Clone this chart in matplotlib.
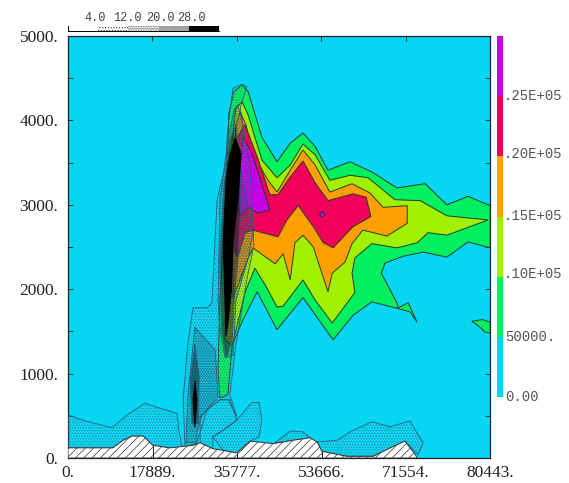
import matplotlib
matplotlib.use("Agg")
import matplotlib.pyplot as plt
import numpy as np

plt.rcParams['font.family'] = ['Liberation Mono', 'DejaVu Sans Mono']
plt.rcParams['hatch.linewidth'] = 0.5

# x in km, height in km
green_x = [36.9,38.2,41.1,44.3,47.1,49.8,52.4,55.1,59.8,64.7,69.7,75.7,80.3,84.8,89.5,89.5,84.8,80.3,75.3,71.0,67.2,66.4,69.7,70.0,72.1,74.0,72.5,70.0,64.4,60.4,56.2,49.8,44.3,40.1,37.1,34.8,33.9,32.2,31.8,32.2,33.5,34.1,35.2]
green_y = [4.42,4.34,3.80,3.51,3.73,3.85,3.69,3.41,3.51,3.38,3.20,3.25,3.00,3.10,2.99,2.49,2.56,2.38,2.44,2.39,2.31,2.19,1.84,1.78,1.84,1.61,1.73,1.77,1.85,1.69,1.40,1.90,1.52,1.97,1.64,1.34,0.75,0.71,1.04,1.87,3.06,4.09,4.34]

yellow_x = [36.9,38.2,41.1,44.3,47.1,49.8,52.4,55.5,59.8,63.6,69.3,74.6,80.3,89.0,80.3,76.3,74.0,69.7,64.4,60.8,60.2,60.8,56.0,52.4,49.8,45.6,44.3,41.8,39.6,37.5,36.5,34.8,33.3,33.3,34.8,35.6]
yellow_y = [4.22,4.06,3.53,3.32,3.47,3.72,3.59,3.29,3.35,3.32,3.06,3.05,2.87,2.82,2.64,2.67,2.55,2.49,2.54,2.37,2.19,1.96,1.60,1.87,2.11,1.80,1.79,2.05,2.25,1.96,1.72,1.34,1.40,2.46,3.77,4.15]

orange_x = [36.5,37.7,39.3,42.4,44.3,47.1,49.8,52.4,55.5,60.2,64.0,66.8,71.9,71.9,67.6,62.5,60.2,58.7,56.0,55.1,52.0,49.8,48.1,47.1,45.6,43.9,39.2,38.2,35.0,34.8,35.6]
orange_y = [4.10,3.95,3.59,3.29,3.15,3.41,3.65,3.47,3.15,3.25,3.14,2.97,2.99,2.78,2.63,2.70,2.54,2.32,2.19,1.97,2.50,2.64,2.55,2.11,2.42,2.30,2.49,2.37,1.90,3.06,3.95]

red_x = [37.5,40.1,42.8,44.5,47.1,49.8,52.4,55.1,60.4,63.2,64.2,60.4,56.2,54.1,52.0,48.8,46.4,44.5,39.2,37.5,36.0,35.2,35.6]
red_y = [3.95,3.57,3.12,3.12,3.33,3.52,3.26,3.05,3.13,3.09,2.86,2.74,2.49,2.55,2.74,2.99,2.82,2.62,2.70,2.67,2.38,2.46,3.77]

purple_x = [37.1,39.0,42.8,40.3,38.2,36.5,36.0,36.5]
purple_y = [3.80,3.61,2.94,2.90,2.97,2.86,3.02,3.45]
purple_dot_x = [53.4,54.1,54.5,53.8,53.4]
purple_dot_y = [2.90,2.92,2.88,2.85,2.88]

patch_x = [85.6,87.8,89.5,89.5,88.4,87.3]
patch_y = [1.62,1.64,1.61,1.48,1.49,1.55]

# cloud water stipple, 4-12
tower1_x = [35.0,36.9,37.9,36.5,38.6,39.4,37.9,36.5,35.6,34.3,35.8,33.9,32.2,29.5,27.3,24.8,24.4,25.4,26.5,29.5,30.5,31.6,33.5,33.7,34.3]
tower1_y = [4.38,4.43,4.40,4.15,3.41,2.52,2.11,1.64,1.34,0.75,0.49,0.69,0.69,0.57,0.18,0.13,0.69,1.36,1.78,1.78,1.84,3.06,3.50,3.80,4.12]
left1_x = [0,3.6,9.3,12.5,16.3,18.9,23.1,23.5,24.2,21.6,18.0,15.9,13.6,11.7,9.5,0]
left1_y = [0.51,0.44,0.36,0.51,0.65,0.60,0.53,0.33,0.13,0.12,0.15,0.26,0.26,0.21,0.12,0.12]
mid1_x = [30.7,32.9,35.8,39.0,40.5,41.1,40.5,38.6,35.8,32.9]
mid1_y = [0.25,0.33,0.45,0.66,0.66,0.45,0.25,0.20,0.06,0.09]
mid2_x = [28.0,29.5,32.2,34.3,35.8,32.9,30.7,30.7,28.0]
mid2_y = [0.49,0.57,0.69,0.69,0.45,0.33,0.25,0.11,0.18]
right1_x = [52.8,57.0,59.8,64.4,68.3,72.5,73.6,75.3,74.2,71.4,68.3,64.7,59.1,53.8]
right1_y = [0.19,0.21,0.31,0.43,0.37,0.44,0.33,0.18,0.04,0.20,0.12,0.02,0.02,0.08]
small1_x = [43.9,47.1,49.8,51.3,47.7]
small1_y = [0.18,0.32,0.31,0.24,0.21]

# 12-20
cell2_x = [25.0,25.4,26.9,31.2,31.8,28.4,27.3,27.3]
cell2_y = [0.18,0.72,1.55,1.28,0.72,0.51,0.30,0.18]
tower2_x = [36.0,37.1,36.5,38.2,39.4,38.2,35.6,35.0,33.3,32.2,31.8,32.2,33.9,35.2]
tower2_y = [4.18,3.95,3.45,2.97,2.73,2.37,1.87,1.22,1.19,1.52,1.87,3.06,3.77,4.12]

# 20-28
cell3_x = [26.9,27.8,27.6,26.3,25.9]
cell3_y = [1.34,0.96,0.41,0.41,0.92]
tower3_x = [35.6,36.5,36.5,36.0,35.2,34.8,33.5,32.6,32.2,33.1,34.3]
tower3_y = [3.95,3.45,2.86,2.35,1.87,1.40,1.19,1.52,2.35,3.26,3.77]

# over 28
cell4_x = [26.9,27.3,26.9,26.5]
cell4_y = [0.92,0.69,0.36,0.69]
tower4_x = [35.4,36.7,36.0,35.0,34.6,33.9,33.5,32.9,33.5,34.3]
tower4_y = [3.79,3.61,3.06,2.57,1.97,1.60,1.45,2.57,3.29,3.59]

terrain_x = [0,9.5,11.7,13.6,15.9,18.0,21.6,26.5,28.0,30.7,32.9,35.8,38.6,43.5,47.7,51.3,52.8,53.8,59.1,64.7,68.3,71.4,73.6,74.0,74.0,0]
terrain_y = [0.12,0.12,0.21,0.26,0.26,0.15,0.12,0.15,0.18,0.11,0.09,0.06,0.20,0.17,0.21,0.24,0.19,0.08,0.02,0.02,0.12,0.20,0.04,0,0,0]
terrain_cut_x = [18.0,35.8,53.8]

xtick_pos = [0,17889,35777,53666,71554,89443]
xtick_labels = ["0.","17889.","35777.","53666.","71554.","80443."]
ytick_pos = [0,1000,2000,3000,4000,5000]
ytick_labels = ["0.","1000.","2000.","3000.","4000.","5000."]

levels = [0,50000,100000,150000,200000,250000,300000]
level_labels = ["0.00","50000.",".10E+05",".15E+05",".20E+05",".25E+05"]
level_colors = ["#06d6f2","#00f060","#a0f000","#ffa000","#f0005a","#c400e4"]

shade_labels = ["4.0","12.0","20.0","28.0"]
shade_hatch = [None,"......","..........","................",None]

W, H = 569, 483
fig = plt.figure(figsize=(W/100, H/100), dpi=100)
ax = fig.add_axes([68/W, 25/H, 422/W, 422/H])
ax.set_facecolor(level_colors[0])

def poly(x, y, color, line="#2a3a2a", z=2):
    ax.fill(np.array(x)*1000, np.array(y)*1000, facecolor=color, edgecolor=line, linewidth=0.7, zorder=z)

def dots(x, y, hatch, dot="#24303f", line="#2f5a78", z=3):
    ax.fill(np.array(x)*1000, np.array(y)*1000, facecolor="none", edgecolor=dot, hatch=hatch, linewidth=0, zorder=z)
    ax.plot(np.array(x+x[:1])*1000, np.array(y+y[:1])*1000, color=line, linewidth=0.6, zorder=z)

poly(green_x, green_y, level_colors[1])
poly(patch_x, patch_y, level_colors[1])
poly(yellow_x, yellow_y, level_colors[2])
poly(orange_x, orange_y, level_colors[3])
poly(red_x, red_y, level_colors[4])
poly(purple_x, purple_y, level_colors[5])
poly(purple_dot_x, purple_dot_y, level_colors[5])

for x, y in [(tower1_x,tower1_y),(left1_x,left1_y),(mid1_x,mid1_y),(mid2_x,mid2_y),(right1_x,right1_y),(small1_x,small1_y)]:
    dots(x, y, "......", dot="#3b7f9c")
for x, y in [(cell2_x,cell2_y),(tower2_x,tower2_y)]:
    dots(x, y, "..........", dot="#2c4a5c", z=4)
for x, y in [(cell3_x,cell3_y),(tower3_x,tower3_y)]:
    dots(x, y, "................", dot="#10181c", z=5)
for x, y in [(cell4_x,cell4_y),(tower4_x,tower4_y)]:
    poly(x, y, "black", line="black", z=6)

# ground
ax.fill(np.array(terrain_x)*1000, np.array(terrain_y)*1000, facecolor="white", edgecolor="#333333", hatch="////", linewidth=0.7, zorder=7)
ax.vlines(np.array(terrain_cut_x)*1000, 0, [150,60,80], color="#222222", linewidth=0.7, zorder=8)

ax.set_xlim(0, 89443)
ax.set_ylim(0, 5000)
ax.set_xticks(xtick_pos)
ax.set_xticklabels(xtick_labels, fontsize=12.5, color="#222222", family="Liberation Serif")
ax.set_yticks(np.arange(0, 5001, 500), minor=True)
ax.set_yticks(ytick_pos)
ax.set_yticklabels(ytick_labels, fontsize=12.5, color="#222222", family="Liberation Serif")
ax.tick_params(axis="both", which="both", direction="in", top=True, right=True, length=3.5, width=0.7, color="#333333")
ax.tick_params(axis="x", pad=5)
ax.tick_params(axis="y", pad=7)
for s in ax.spines.values():
    s.set_linewidth(0.9)
    s.set_color("#222222")

# colour scale on the right
cax = fig.add_axes([497/W, (H-397)/H, 6/W, 361/H])
cax.bar([0]*6, np.diff(levels), bottom=levels[:-1], width=1, color=level_colors, linewidth=0)
cax.set_xlim(-0.5, 0.5)
cax.set_ylim(levels[0], levels[-1])
cax.set_xticks([])
cax.set_yticks([])
label_dy = [0,0,2,0,2,0]
for lev, lab, dy in zip(levels, level_labels, label_dy):
    cax.annotate(lab, (1, lev), xycoords=("axes fraction", "data"), xytext=(0.5 if lab[0] == "." else 1.5, dy),
                 textcoords="offset points", va="center", ha="left", fontsize=10, color="#555555", annotation_clip=False)
for s in cax.spines.values():
    s.set_visible(False)

# shading scale on top
sax = fig.add_axes([68/W, (H-31)/H, 151/W, 5/H])
for i, h in enumerate(shade_hatch):
    c = "black" if i == 4 else "white"
    sax.bar(i+0.5, 1, width=1, facecolor=c, edgecolor="#333333", hatch=h, linewidth=0)
sax.set_xlim(0, 5)
sax.set_ylim(0, 1)
sax.set_yticks([])
sax.xaxis.tick_top()
sax.set_xticks([0.9,1.95,3.05,4.1])
sax.set_xticklabels(shade_labels, fontsize=8.6, color="#444444")
sax.tick_params(axis="x", length=0, pad=1.5)
for k in ["top","right"]:
    sax.spines[k].set_visible(False)
sax.spines["left"].set_linewidth(0.7)
sax.spines["bottom"].set_linewidth(0.7)

fig.savefig("out.png", dpi=100)
